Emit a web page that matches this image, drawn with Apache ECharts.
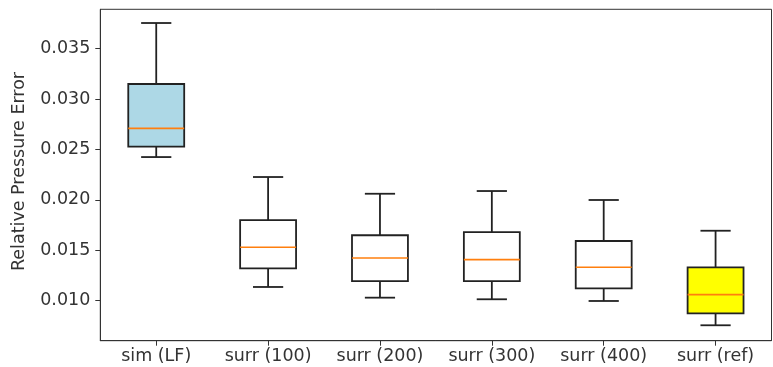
<!DOCTYPE html>
<html>
<head>
<meta charset="utf-8">
<script src="https://cdn.jsdelivr.net/npm/echarts@6/dist/echarts.min.js"></script>
<style>
html,body{margin:0;padding:0;background:#fff;}
#chart{width:773px;height:367px;}
</style>
</head>
<body>
<div id="chart"></div>
<script>
const categories = ['sim (LF)', 'surr (100)', 'surr (200)', 'surr (300)', 'surr (400)', 'surr (ref)'];
const whiskerLow = [0.02425, 0.01136, 0.0103, 0.01014, 0.00997, 0.00756];
const q1 = [0.02528, 0.01321, 0.01195, 0.01195, 0.01123, 0.00875];
const median = [0.0271, 0.0153, 0.01424, 0.01407, 0.01331, 0.0106];
const q3 = [0.0315, 0.0180, 0.01649, 0.01681, 0.01592, 0.01331];
const whiskerHigh = [0.03755, 0.02227, 0.02061, 0.02088, 0.01999, 0.01694];
const boxColors = ['#add8e6', '#ffffff', '#ffffff', '#ffffff', '#ffffff', '#ffff00'];
const yTicks = [0.010, 0.015, 0.020, 0.025, 0.030, 0.035];

const rows = categories.map((c, i) => [i, whiskerLow[i], q1[i], median[i], q3[i], whiskerHigh[i]]);

const chart = echarts.init(document.getElementById('chart'), null, {renderer: 'canvas'});
const font = 'DejaVu Sans';
const fs = 17.5;
const textColor = '#333';

function renderItem(params, api) {
  const idx = api.value(0);
  const lo = api.coord([idx, api.value(1)]);
  const b1 = api.coord([idx, api.value(2)]);
  const md = api.coord([idx, api.value(3)]);
  const b3 = api.coord([idx, api.value(4)]);
  const hi = api.coord([idx, api.value(5)]);
  const band = api.size([1, 0])[0];
  const bw = band * 0.5;
  const cw = bw * 0.54;
  const cx = lo[0];
  const black = '#222';
  const lw = 1.8;
  return {
    type: 'group',
    children: [
      {type: 'line', shape: {x1: cx, y1: b3[1], x2: cx, y2: hi[1]}, style: {stroke: black, lineWidth: lw}},
      {type: 'line', shape: {x1: cx, y1: b1[1], x2: cx, y2: lo[1]}, style: {stroke: black, lineWidth: lw}},
      {type: 'line', shape: {x1: cx - cw / 2, y1: hi[1], x2: cx + cw / 2, y2: hi[1]}, style: {stroke: black, lineWidth: lw}},
      {type: 'line', shape: {x1: cx - cw / 2, y1: lo[1], x2: cx + cw / 2, y2: lo[1]}, style: {stroke: black, lineWidth: lw}},
      {type: 'rect', shape: {x: cx - bw / 2, y: b3[1], width: bw, height: b1[1] - b3[1]}, style: {fill: boxColors[idx], stroke: black, lineWidth: lw}},
      {type: 'line', shape: {x1: cx - bw / 2, y1: md[1], x2: cx + bw / 2, y2: md[1]}, style: {stroke: '#ff7f0e', lineWidth: 1.6}}
    ]
  };
}

chart.setOption({
  animation: false,
  backgroundColor: '#fff',
  grid: {left: 100.3, top: 9.3, right: 1.5, bottom: 26.3, show: true, borderColor: '#333', borderWidth: 1, backgroundColor: 'transparent'},
  xAxis: {
    type: 'category',
    data: categories,
    boundaryGap: true,
    axisLine: {show: true, lineStyle: {color: '#333', width: 1}},
    axisTick: {show: true, alignWithLabel: true, interval: 0, length: 5, lineStyle: {color: '#333', width: 1}},
    axisLabel: {color: textColor, fontFamily: font, fontSize: fs, margin: 7, interval: 0, hideOverlap: false},
    splitLine: {show: false}
  },
  yAxis: {
    type: 'value',
    min: 0.00603,
    max: 0.03891,
    name: 'Relative Pressure Error',
    nameLocation: 'middle',
    nameGap: 72,
    nameTextStyle: {color: textColor, fontFamily: font, fontSize: fs, padding: [0, 0, 0, 7]},
    axisLine: {show: true, lineStyle: {color: '#333', width: 1}},
    axisTick: {show: true, length: 5, customValues: yTicks, lineStyle: {color: '#333', width: 1}},
    axisLabel: {color: textColor, fontFamily: font, fontSize: fs, margin: 10, customValues: yTicks, formatter: v => v.toFixed(3)},
    splitLine: {show: false}
  },
  series: [{
    type: 'custom',
    renderItem: renderItem,
    data: rows,
    encode: {x: 0, y: [1, 2, 3, 4, 5]}
  }]
});
</script>
</body>
</html>
